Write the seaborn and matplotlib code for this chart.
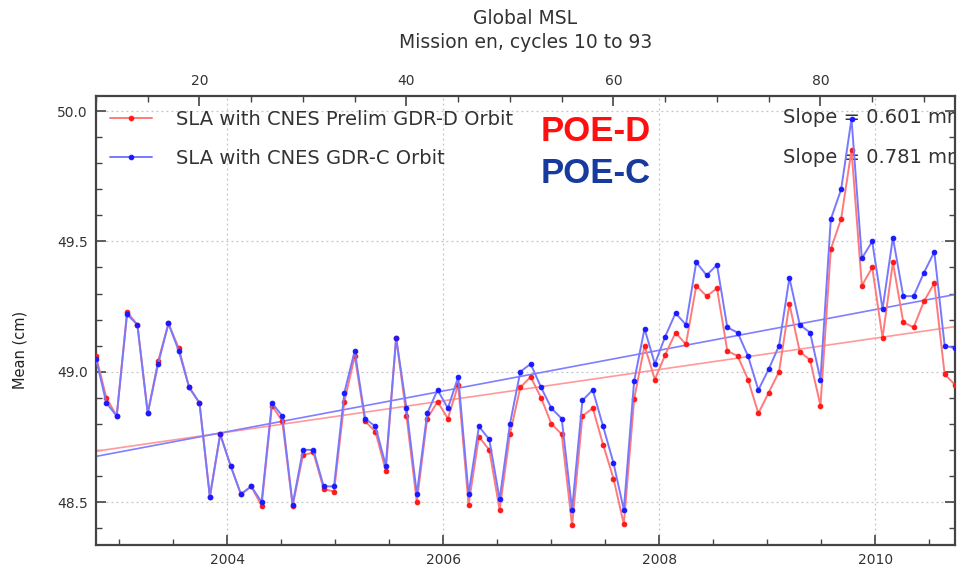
import numpy as np
import pandas as pd
import matplotlib
matplotlib.use("Agg")
import matplotlib.pyplot as plt
import seaborn as sns
from matplotlib.ticker import MultipleLocator, FixedLocator

sns.set_theme(style="white")
plt.rcParams["font.family"] = ["DejaVu Sans"]

# Envisat cycles and mean sea level anomaly (cm) per cycle
cycles = np.arange(10, 94)
sla_gdrd = [
    49.06, 48.90, 48.83, 49.23, 49.18, 48.84, 49.04, 49.185, 49.09, 48.94,
    48.88, 48.52, 48.76, 48.64, 48.53, 48.56, 48.485, 48.87, 48.81, 48.485,
    48.68, 48.69, 48.55, 48.54, 48.885, 49.06, 48.81, 48.77, 48.62, 49.13,
    48.83, 48.50, 48.82, 48.885, 48.82, 48.95, 48.49, 48.75, 48.70, 48.47,
    48.76, 48.94, 48.98, 48.90, 48.80, 48.76, 48.41, 48.83, 48.86, 48.72,
    48.59, 48.415, 48.895, 49.10, 48.97, 49.065, 49.15, 49.105, 49.33, 49.29,
    49.32, 49.08, 49.06, 48.97, 48.84, 48.92, 49.00, 49.26, 49.077, 49.045,
    48.87, 49.47, 49.587, 49.85, 49.33, 49.40, 49.13, 49.42, 49.19, 49.17,
    49.27, 49.34, 48.99, 48.95,
]
sla_gdrc = [
    49.05, 48.88, 48.83, 49.22, 49.18, 48.84, 49.03, 49.185, 49.08, 48.94,
    48.88, 48.52, 48.76, 48.64, 48.53, 48.56, 48.50, 48.88, 48.83, 48.49,
    48.70, 48.70, 48.56, 48.56, 48.92, 49.08, 48.82, 48.79, 48.64, 49.13,
    48.86, 48.53, 48.84, 48.93, 48.86, 48.98, 48.53, 48.79, 48.74, 48.51,
    48.80, 49.00, 49.03, 48.94, 48.86, 48.82, 48.47, 48.89, 48.93, 48.79,
    48.65, 48.47, 48.965, 49.165, 49.03, 49.135, 49.225, 49.18, 49.42, 49.37,
    49.41, 49.17, 49.15, 49.06, 48.93, 49.01, 49.10, 49.36, 49.18, 49.15,
    48.97, 49.585, 49.70, 49.97, 49.435, 49.50, 49.24, 49.515, 49.29, 49.29,
    49.38, 49.46, 49.10, 49.09,
]
series_names = ["SLA with CNES Prelim GDR-D Orbit", "SLA with CNES GDR-C Orbit"]
# Linear trends: slope in mm/yr, value (cm) at the first cycle
slopes_mm = [0.601, 0.781]
trend_start = [48.695, 48.675]
year_ticks = [2004, 2006, 2008, 2010]
cycle_ticks = [20, 40, 60, 80]

# cycle <-> decimal year (35-day repeat cycle)
T0 = 2002.786
CYCLE_DAYS = 35.0


def cyc2year(c):
    return T0 + (np.asarray(c, dtype=float) - 10) * CYCLE_DAYS / 365.25


def year2cyc(t):
    return 10 + (np.asarray(t, dtype=float) - T0) * 365.25 / CYCLE_DAYS


years = cyc2year(cycles)
df = pd.DataFrame({
    "year": np.concatenate([years, years]),
    "sla": np.concatenate([sla_gdrd, sla_gdrc]),
    "series": [series_names[0]] * len(cycles) + [series_names[1]] * len(cycles),
})

fig = plt.figure(figsize=(9.59, 5.71), dpi=100)
ax = fig.add_axes([96 / 959, 26 / 571, 859 / 959, 449 / 571])

line_cols = ["#ff7a7a", "#7878ff"]
mark_cols = ["#ff1a1a", "#1a1aff"]
trend_cols = ["#ff9a9a", "#7f7fff"]

# trend lines
tr_x = np.array([years[0], years[-1]])
for i in range(2):
    tr_y = trend_start[i] + slopes_mm[i] / 10.0 * (tr_x - years[0])
    sns.lineplot(x=tr_x, y=tr_y, ax=ax, color=trend_cols[i], lw=1.2,
                 label="_nolegend_", zorder=2)

# data series
for i, name in enumerate(series_names):
    sub = df[df["series"] == name]
    sns.lineplot(data=sub, x="year", y="sla", ax=ax, color=line_cols[i],
                 lw=1.4, marker="o", markersize=3.3, markerfacecolor=mark_cols[i],
                 markeredgecolor=mark_cols[i], label=name, zorder=3 + i)

ax.set_xlim(years[0], years[-1])
ax.set_ylim(48.335, 50.058)
ax.set_xlabel("")
ax.set_ylabel("Mean (cm)", fontsize=10.5, color="#222222")
ax.yaxis.set_label_coords(-0.08, 0.435)

ax.xaxis.set_major_locator(FixedLocator(year_ticks))
ax.set_xticklabels([str(y) for y in year_ticks])
ax.xaxis.set_minor_locator(MultipleLocator(0.5))
ax.yaxis.set_major_locator(MultipleLocator(0.5))
ax.yaxis.set_minor_locator(MultipleLocator(0.1))
ax.yaxis.set_major_formatter(matplotlib.ticker.FormatStrFormatter("%.1f"))

ax.tick_params(which="both", direction="in", bottom=True, left=True, right=True,
               top=False, colors="#444444", labelcolor="#333333", labelsize=10)
ax.tick_params(which="major", length=7, width=1.2, pad=6)
ax.tick_params(which="minor", length=4, width=1.0)
for sp in ax.spines.values():
    sp.set_color("#444444")
    sp.set_linewidth(1.6)

ax.grid(True, which="major", ls=(0, (1.5, 2.5)), color="#c4c4c4", lw=0.9)

# top axis: cycle number
sec = ax.secondary_xaxis("top", functions=(year2cyc, cyc2year))
sec.xaxis.set_major_locator(FixedLocator(cycle_ticks))
sec.xaxis.set_minor_locator(MultipleLocator(5))
sec.tick_params(which="both", direction="in", colors="#444444",
                labelcolor="#333333", labelsize=10)
sec.tick_params(which="major", length=7, width=1.2, pad=6)
sec.tick_params(which="minor", length=4, width=1.0)

leg = ax.legend(loc="upper left", frameon=False, fontsize=14,
                handlelength=2.2, handletextpad=1.2, labelspacing=1.05,
                borderaxespad=0.5, borderpad=0.2, bbox_to_anchor=(0.0, 1.0))
for t in leg.get_texts():
    t.set_color("#333333")

ax.text(0.518, 0.922, "POE-D", transform=ax.transAxes, color="#ff1010",
        fontsize=25, fontweight="bold", family="Liberation Sans", va="center")
ax.text(0.518, 0.827, "POE-C", transform=ax.transAxes, color="#163a9e",
        fontsize=25, fontweight="bold", family="Liberation Sans", va="center")

for i, yy in enumerate([0.953, 0.864]):
    ax.text(0.80, yy, f"Slope = {slopes_mm[i]:.3f} mm/yr", transform=ax.transAxes,
            fontsize=14, color="#333333", va="center", clip_on=True, zorder=1)

fig.text(0.548, 1 - 18 / 571, "Global MSL", ha="center", va="center",
         fontsize=13.5, color="#333333")
fig.text(0.548, 1 - 43 / 571, "Mission en, cycles 10 to 93", ha="center",
         va="center", fontsize=13.5, color="#333333")

fig.savefig("out.png", dpi=100)
